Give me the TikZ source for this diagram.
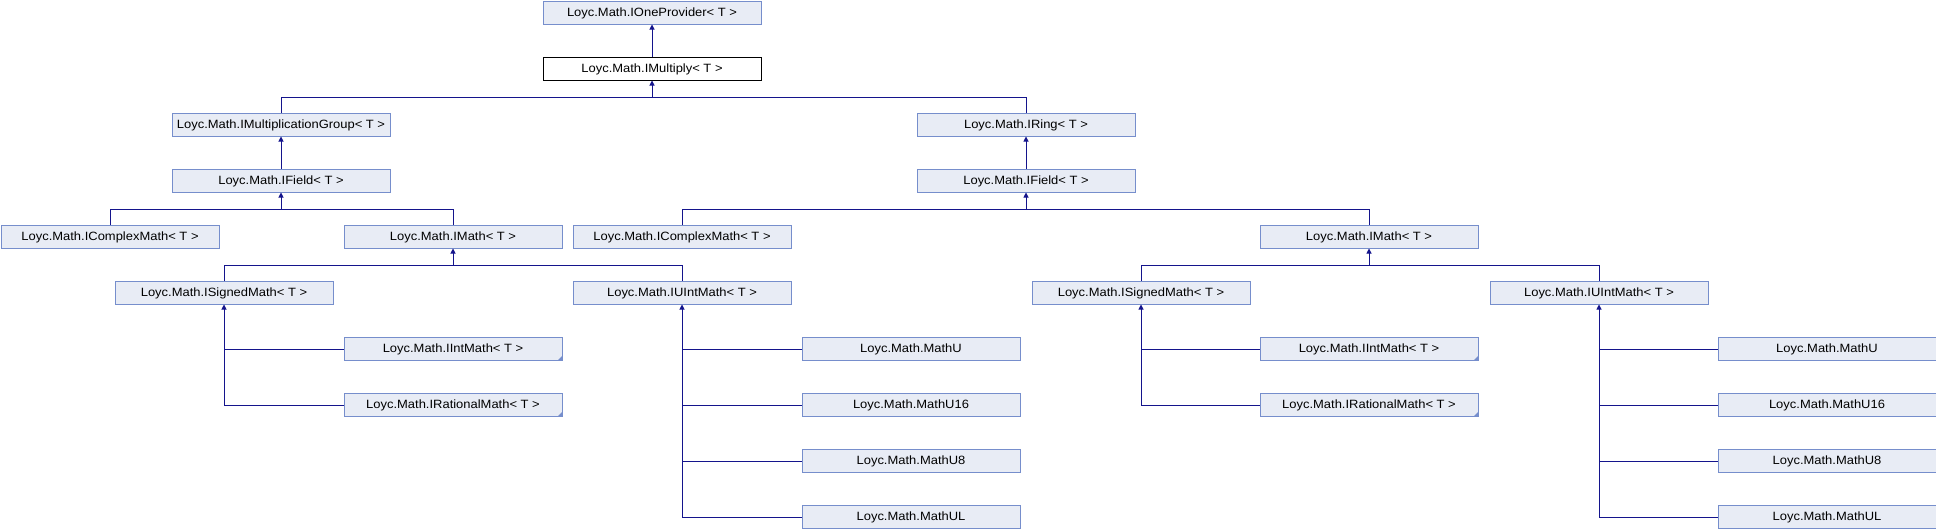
\documentclass[tikz,border=0pt]{standalone}
\usepackage{fontspec}
\setmainfont[FakeStretch=1.08]{Liberation Sans}
\usetikzlibrary{arrows.meta,calc}
\definecolor{boxfill}{RGB}{232,236,245}
\definecolor{boxline}{RGB}{118,142,204}
\definecolor{edgecol}{RGB}{20,20,140}
\tikzset{
  box/.style={draw=boxline, fill=boxfill, line width=1pt, minimum width=218pt, minimum height=23pt,
    inner sep=0pt, anchor=north west, text height=9.7pt, text depth=2.3pt,
    font=\fontsize{12}{14}\selectfont},
  mainbox/.style={box, draw=black, fill=white},
  conn/.style={draw=edgecol, line width=1pt},
  arr/.style={conn, -{Triangle[length=5pt,width=5pt]}},
  more/.style={fill=boxline}
}
\begin{document}
\begin{tikzpicture}[x=1pt,y=-1pt]
\useasboundingbox (0,0) rectangle (1936,528);
% rows
\node[box] (ione) at (542.5,0.5) {Loyc.Math.IOneProvider< T >};
\node[mainbox] (imul) at (542.5,56.5) {Loyc.Math.IMultiply< T >};
\node[box] (imgrp) at (171.5,112.5) {Loyc.Math.IMultiplicationGroup< T >};
\node[box] (iring) at (916.5,112.5) {Loyc.Math.IRing< T >};
\node[box] (ifldA) at (171.5,168.5) {Loyc.Math.IField< T >};
\node[box] (ifldB) at (916.5,168.5) {Loyc.Math.IField< T >};
\node[box] (icmA) at (0.5,224.5) {Loyc.Math.IComplexMath< T >};
\node[box] (imathA) at (343.5,224.5) {Loyc.Math.IMath< T >};
\node[box] (icmB) at (572.5,224.5) {Loyc.Math.IComplexMath< T >};
\node[box] (imathB) at (1259.5,224.5) {Loyc.Math.IMath< T >};
\node[box] (isigA) at (114.5,280.5) {Loyc.Math.ISignedMath< T >};
\node[box] (iuintA) at (572.5,280.5) {Loyc.Math.IUIntMath< T >};
\node[box] (isigB) at (1031.5,280.5) {Loyc.Math.ISignedMath< T >};
\node[box] (iuintB) at (1489.5,280.5) {Loyc.Math.IUIntMath< T >};
\node[box] (iintA) at (343.5,336.5) {Loyc.Math.IIntMath< T >};
\node[box] (iratA) at (343.5,392.5) {Loyc.Math.IRationalMath< T >};
\node[box] (iintB) at (1259.5,336.5) {Loyc.Math.IIntMath< T >};
\node[box] (iratB) at (1259.5,392.5) {Loyc.Math.IRationalMath< T >};
\node[box] (muA) at (801.5,336.5) {Loyc.Math.MathU};
\node[box] (mu16A) at (801.5,392.5) {Loyc.Math.MathU16};
\node[box] (mu8A) at (801.5,448.5) {Loyc.Math.MathU8};
\node[box] (mulA) at (801.5,504.5) {Loyc.Math.MathUL};
\node[box] (muB) at (1717.5,336.5) {Loyc.Math.MathU};
\node[box] (mu16B) at (1717.5,392.5) {Loyc.Math.MathU16};
\node[box] (mu8B) at (1717.5,448.5) {Loyc.Math.MathU8};
\node[box] (mulB) at (1717.5,504.5) {Loyc.Math.MathUL};
% corner markers
\foreach \n in {iintA,iratA,iintB,iratB}
  \fill[more] (\n.south east) -- ++(-5,0) -- ++(5,-5) -- cycle;
% bus coordinates
\coordinate (busM) at ($(imul.south)+(0,17)$);
\coordinate (busFA) at ($(ifldA.south)+(0,17)$);
\coordinate (busFB) at ($(ifldB.south)+(0,17)$);
\coordinate (busMA) at ($(imathA.south)+(0,17)$);
\coordinate (busMB) at ($(imathB.south)+(0,17)$);
% connectors
\draw[arr] (imul.north) -- (ione.south);
\draw[conn] (imgrp.north) |- (busM) -| (iring.north);
\draw[arr] (busM) -- (imul.south);
\draw[arr] (ifldA.north) -- (imgrp.south);
\draw[arr] (ifldB.north) -- (iring.south);
\draw[conn] (icmA.north) |- (busFA) -| (imathA.north);
\draw[arr] (busFA) -- (ifldA.south);
\draw[conn] (icmB.north) |- (busFB) -| (imathB.north);
\draw[arr] (busFB) -- (ifldB.south);
\draw[conn] (isigA.north) |- (busMA) -| (iuintA.north);
\draw[arr] (busMA) -- (imathA.south);
\draw[conn] (isigB.north) |- (busMB) -| (iuintB.north);
\draw[arr] (busMB) -- (imathB.south);
% signed children
\coordinate (jA) at ($(iratA.west)+(0,0.5)$);
\draw[arr] (jA) -| (isigA.south);
\coordinate (kA) at ($(iintA.west)+(0,0.5)$);
\draw[conn] (kA) -- (kA -| isigA.south);
\coordinate (jB) at ($(iratB.west)+(0,0.5)$);
\draw[arr] (jB) -| (isigB.south);
\coordinate (kB) at ($(iintB.west)+(0,0.5)$);
\draw[conn] (kB) -- (kB -| isigB.south);
% uint children
\coordinate (uA) at ($(mulA.west)+(0,0.5)$);
\draw[arr] (uA) -| (iuintA.south);
\foreach \n in {muA,mu16A,mu8A}
  \draw[conn] ($(\n.west)+(0,0.5)$) coordinate (t) -- (t -| iuintA.south);
\coordinate (uB) at ($(mulB.west)+(0,0.5)$);
\draw[arr] (uB) -| (iuintB.south);
\foreach \n in {muB,mu16B,mu8B}
  \draw[conn] ($(\n.west)+(0,0.5)$) coordinate (t) -- (t -| iuintB.south);
\end{tikzpicture}
\end{document}
